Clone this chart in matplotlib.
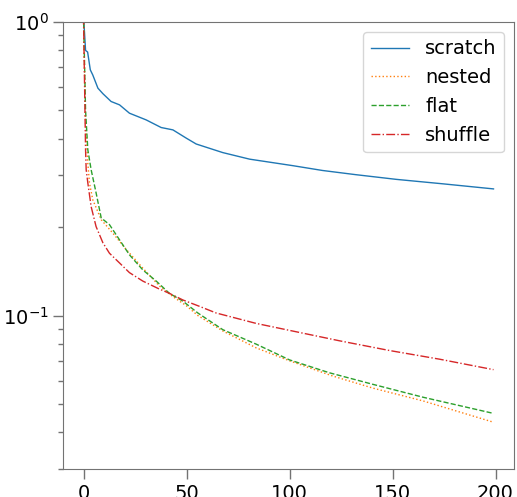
import matplotlib
matplotlib.use('Agg')
import matplotlib.pyplot as plt

# (x = epoch, y = loss on log axis)
scratch_x = [0, 1, 2, 3.3, 4.5, 7, 9.4, 13.4, 17.5, 22.3, 30.4, 37.7, 43.4, 49.9,
             54.7, 67.6, 80.6, 101.6, 116, 132, 151.8, 174.4, 199]
scratch_y = [1.05, 0.80, 0.79, 0.687, 0.66, 0.595, 0.57, 0.536, 0.522, 0.489, 0.464,
             0.437, 0.429, 0.402, 0.384, 0.359, 0.341, 0.324, 0.312, 0.302, 0.291,
             0.281, 0.270]

nested_x = [0, 1, 2.1, 2.9, 4.5, 8.6, 14.2, 20.7, 28.8, 36.9, 43.4, 49.9, 55.5,
            67.6, 83.8, 100, 121, 140.4, 164.7, 180.9, 199]
nested_y = [1.05, 0.45, 0.33, 0.283, 0.248, 0.212, 0.191, 0.168, 0.145, 0.126, 0.116,
            0.108, 0.100, 0.0886, 0.0776, 0.0701, 0.0622, 0.0566, 0.0512, 0.0473, 0.0433]

flat_x = [0, 1, 2.1, 3.7, 6.1, 8.6, 12.6, 17.5, 22.3, 28.8, 35.3, 41.7, 48.2, 55.5,
          67.6, 83.8, 100, 119.4, 140.4, 164.7, 199]
flat_y = [1.05, 0.50, 0.367, 0.314, 0.262, 0.215, 0.204, 0.181, 0.161, 0.143, 0.131,
          0.119, 0.112, 0.102, 0.0895, 0.0799, 0.0706, 0.0638, 0.0583, 0.0527, 0.0464]

shuffle_x = [0, 1, 1.3, 2.1, 3.7, 6.1, 9.4, 12.6, 17.5, 22.3, 28.8, 36.9, 41.7, 48.2,
             55.5, 64.4, 83.8, 100, 124.3, 148.5, 172.8, 199]
shuffle_y = [1.05, 0.367, 0.314, 0.283, 0.235, 0.201, 0.177, 0.163, 0.151, 0.140,
             0.131, 0.123, 0.119, 0.113, 0.108, 0.102, 0.094, 0.089, 0.082, 0.076,
             0.071, 0.0654]

fig = plt.figure(figsize=(5.17, 4.97), dpi=100)
ax = fig.add_axes([63 / 517, 1 - 469 / 497, (514 - 63) / 517, (469 - 22) / 497])

ax.plot(scratch_x, scratch_y, '-', color='tab:blue', linewidth=1.0, label='scratch')
ax.plot(nested_x, nested_y, ':', color='tab:orange', linewidth=1.0, label='nested')
ax.plot(flat_x, flat_y, '--', color='tab:green', linewidth=1.0, label='flat')
ax.plot(shuffle_x, shuffle_y, '-.', color='tab:red', linewidth=1.0, label='shuffle')

ax.set_yscale('log')
ax.set_ylim(0.03, 1.0)
ax.set_xlim(-9.95, 208.95)
ax.set_xticks([0, 50, 100, 150, 200])

for s in ax.spines.values():
    s.set_color('0.45')
ax.tick_params(which='major', length=7, width=1, color='0.45', labelsize=14)
ax.tick_params(which='minor', length=3.5, width=1, color='0.45')

ax.legend(loc='upper right', fontsize=14)

fig.savefig('out.png', dpi=100)
